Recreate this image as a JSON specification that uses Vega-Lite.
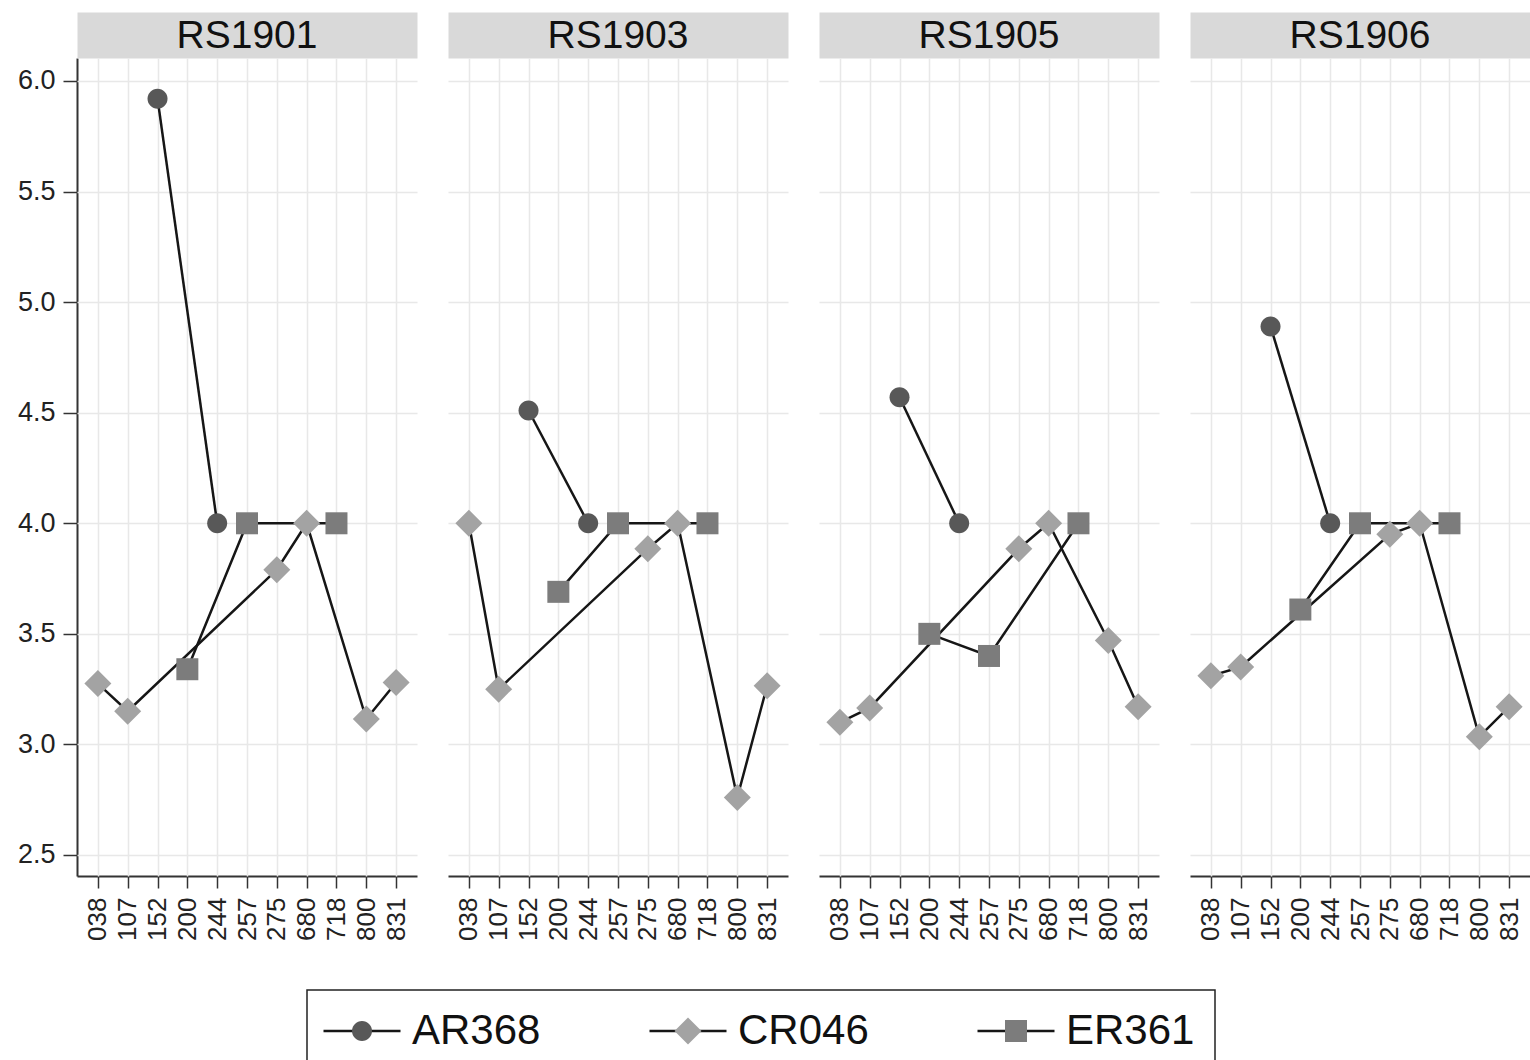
{
  "$schema": "https://vega.github.io/schema/vega-lite/v6.json",
  "background": "white",
  "padding": {"left": 4, "right": 0, "top": 17, "bottom": 0},
  "data": {"values": [
    {"panel": "RS1901", "series": "AR368", "x": "152", "v": 5.92},
    {"panel": "RS1901", "series": "AR368", "x": "244", "v": 4.0},
    {"panel": "RS1901", "series": "CR046", "x": "038", "v": 3.275},
    {"panel": "RS1901", "series": "CR046", "x": "107", "v": 3.15},
    {"panel": "RS1901", "series": "CR046", "x": "275", "v": 3.79},
    {"panel": "RS1901", "series": "CR046", "x": "680", "v": 4.0},
    {"panel": "RS1901", "series": "CR046", "x": "800", "v": 3.115},
    {"panel": "RS1901", "series": "CR046", "x": "831", "v": 3.28},
    {"panel": "RS1901", "series": "ER361", "x": "200", "v": 3.34},
    {"panel": "RS1901", "series": "ER361", "x": "257", "v": 4.0},
    {"panel": "RS1901", "series": "ER361", "x": "718", "v": 4.0},
    {"panel": "RS1903", "series": "AR368", "x": "152", "v": 4.51},
    {"panel": "RS1903", "series": "AR368", "x": "244", "v": 4.0},
    {"panel": "RS1903", "series": "CR046", "x": "038", "v": 4.0},
    {"panel": "RS1903", "series": "CR046", "x": "107", "v": 3.25},
    {"panel": "RS1903", "series": "CR046", "x": "275", "v": 3.885},
    {"panel": "RS1903", "series": "CR046", "x": "680", "v": 4.0},
    {"panel": "RS1903", "series": "CR046", "x": "800", "v": 2.76},
    {"panel": "RS1903", "series": "CR046", "x": "831", "v": 3.265},
    {"panel": "RS1903", "series": "ER361", "x": "200", "v": 3.69},
    {"panel": "RS1903", "series": "ER361", "x": "257", "v": 4.0},
    {"panel": "RS1903", "series": "ER361", "x": "718", "v": 4.0},
    {"panel": "RS1905", "series": "AR368", "x": "152", "v": 4.57},
    {"panel": "RS1905", "series": "AR368", "x": "244", "v": 4.0},
    {"panel": "RS1905", "series": "CR046", "x": "038", "v": 3.1},
    {"panel": "RS1905", "series": "CR046", "x": "107", "v": 3.165},
    {"panel": "RS1905", "series": "CR046", "x": "275", "v": 3.885},
    {"panel": "RS1905", "series": "CR046", "x": "680", "v": 4.0},
    {"panel": "RS1905", "series": "CR046", "x": "800", "v": 3.47},
    {"panel": "RS1905", "series": "CR046", "x": "831", "v": 3.17},
    {"panel": "RS1905", "series": "ER361", "x": "200", "v": 3.5},
    {"panel": "RS1905", "series": "ER361", "x": "257", "v": 3.4},
    {"panel": "RS1905", "series": "ER361", "x": "718", "v": 4.0},
    {"panel": "RS1906", "series": "AR368", "x": "152", "v": 4.89},
    {"panel": "RS1906", "series": "AR368", "x": "244", "v": 4.0},
    {"panel": "RS1906", "series": "CR046", "x": "038", "v": 3.31},
    {"panel": "RS1906", "series": "CR046", "x": "107", "v": 3.35},
    {"panel": "RS1906", "series": "CR046", "x": "275", "v": 3.95},
    {"panel": "RS1906", "series": "CR046", "x": "680", "v": 4.0},
    {"panel": "RS1906", "series": "CR046", "x": "800", "v": 3.035},
    {"panel": "RS1906", "series": "CR046", "x": "831", "v": 3.17},
    {"panel": "RS1906", "series": "ER361", "x": "200", "v": 3.61},
    {"panel": "RS1906", "series": "ER361", "x": "257", "v": 4.0},
    {"panel": "RS1906", "series": "ER361", "x": "718", "v": 4.0}
  ]},
  "facet": {
    "column": {
      "field": "panel",
      "type": "nominal",
      "header": {
        "title": null,
        "labelFontSize": 39,
        "labelFont": "Liberation Sans",
        "labelColor": "#111111",
        "labelPadding": -21
      }
    }
  },
  "spacing": 31,
  "spec": {
    "width": 340,
    "height": 818,
    "layer": [
      {
        "mark": {"type": "line", "strokeWidth": 2.5, "color": "#161616"},
        "encoding": {
          "x": {
            "field": "x", "type": "ordinal",
            "scale": {"domain": ["038","107","152","200","244","257","275","680","718","800","831"], "padding": 0.7},
            "axis": {
              "orient": "bottom", "title": null, "labelAngle": -90,
              "labelFontSize": 26, "labelFont": "Liberation Sans", "labelColor": "#222222",
              "labelPadding": 9, "tickSize": 12, "tickWidth": 1.5, "tickColor": "#333333",
              "domainWidth": 2, "domainColor": "#333333",
              "grid": true, "gridColor": "#e8e8e8", "gridWidth": 1.5
            }
          },
          "y": {
            "field": "v", "type": "quantitative",
            "scale": {"domain": [2.405, 6.104], "nice": false, "zero": false},
            "axis": {
              "title": null, "values": [2.5, 3, 3.5, 4, 4.5, 5, 5.5, 6], "format": ".1f",
              "labelFontSize": 27, "labelFont": "Liberation Sans", "labelColor": "#222222",
              "labelPadding": 8, "tickSize": 14, "tickWidth": 1.5, "tickColor": "#333333",
              "domainWidth": 2, "domainColor": "#333333",
              "grid": true, "gridColor": "#e8e8e8", "gridWidth": 1.5,
              "minExtent": 73, "maxExtent": 73
            }
          },
          "color": {
            "field": "series", "type": "nominal",
            "scale": {"domain": ["AR368", "CR046", "ER361"], "range": ["#161616", "#161616", "#161616"]},
            "legend": {
              "orient": "none", "legendX": 230, "legendY": 932,
              "direction": "horizontal", "title": null,
              "symbolType": "M-3.85,0H3.85", "symbolSize": 400,
              "symbolStrokeWidth": 2.5, "symbolStrokeColor": "#161616",
              "labelFontSize": 42, "labelFont": "Liberation Sans", "labelColor": "#111111",
              "labelExpr": "datum.label === 'ER361' ? datum.label + ' ' : datum.label",
              "symbolOffset": 14, "labelOffset": 29, "columnPadding": 103,
              "padding": 20, "strokeColor": "#222222", "fillColor": "white",
              "encode": {"legend": {"update": {"strokeWidth": {"value": 1.5}}}}
            }
          }
        }
      },
      {
        "mark": {"type": "point", "filled": true, "size": 400, "opacity": 1},
        "encoding": {
          "x": {
            "field": "x", "type": "ordinal",
            "axis": {
              "orient": "top", "title": null, "labels": false, "ticks": false, "grid": false,
              "domainColor": "#d9d9d9", "domainWidth": 46, "offset": 23
            }
          },
          "y": {"field": "v", "type": "quantitative"},
          "fill": {
            "field": "series", "type": "nominal",
            "scale": {"range": ["#585858", "#a3a3a3", "#7c7c7c"]},
            "legend": {
              "orient": "none", "legendX": 230, "legendY": 932,
              "direction": "horizontal", "title": null,
              "symbolSize": 400, "symbolStrokeWidth": 2.5, "symbolStrokeColor": "transparent",
              "labelFontSize": 42, "labelFont": "Liberation Sans", "labelColor": "transparent",
              "symbolOffset": 14, "labelOffset": 29, "columnPadding": 112,
              "padding": 20
            }
          },
          "shape": {
            "field": "series", "type": "nominal",
            "scale": {"range": [
              "M-1,0A1,1 0 1,0 1,0A1,1 0 1,0 -1,0Z",
              "M0,-1.35L1.35,0L0,1.35L-1.35,0Z",
              "M-1.1,-1.1H1.1V1.1H-1.1Z"
            ]},
            "legend": {
              "orient": "none", "legendX": 230, "legendY": 932,
              "direction": "horizontal", "title": null,
              "symbolSize": 400, "symbolStrokeWidth": 2.5, "symbolStrokeColor": "transparent",
              "labelFontSize": 42, "labelFont": "Liberation Sans", "labelColor": "transparent",
              "symbolOffset": 14, "labelOffset": 29, "columnPadding": 112,
              "padding": 20
            }
          }
        }
      }
    ]
  },
  "config": {
    "view": {"stroke": null},
    "font": "Liberation Sans"
  }
}
